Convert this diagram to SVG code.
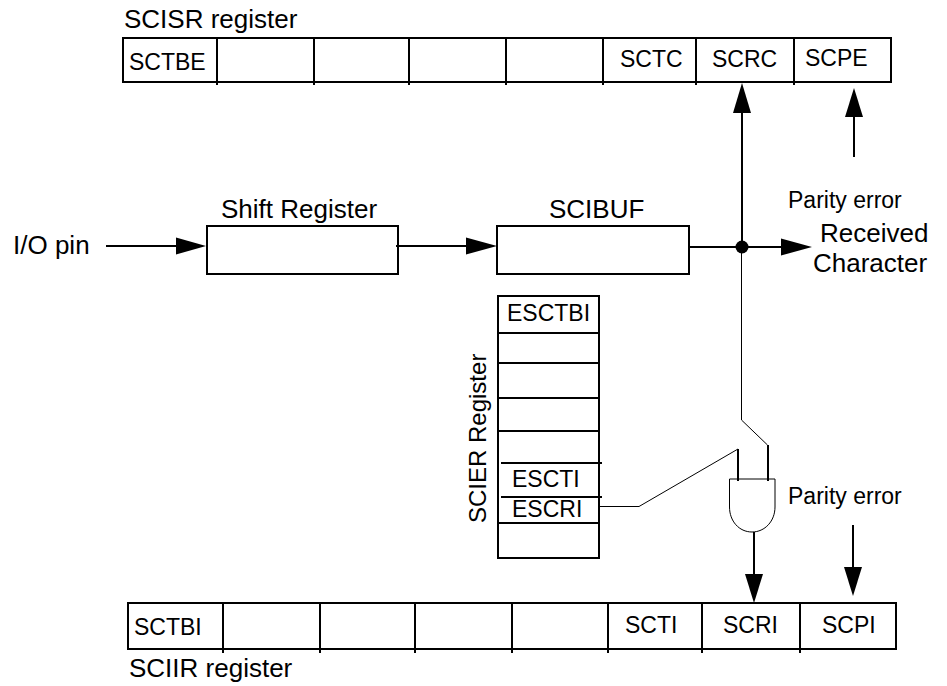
<svg xmlns="http://www.w3.org/2000/svg" width="947" height="686" viewBox="0 0 947 686">
<style>
text{font-family:"Liberation Sans",Arial,sans-serif;font-size:26px;fill:#000}
.s{font-size:23px}
.m{font-size:24px}
.box{fill:none;stroke:#000;stroke-width:2}
.div{stroke:#000;stroke-width:2;fill:none}
.c{stroke:#000;stroke-width:2;fill:none}
.t{stroke:#000;stroke-width:1;fill:none}
.h{fill:#000;stroke:none}
</style>
<rect width="947" height="686" fill="#fff"/>
<g id="scisr-register">
<rect class="box" x="123" y="38" width="768" height="44"/>
<path class="div" d="M217 38V85M314 38V85M409 38V85M506 38V85M603 38V85M696 38V85M794 38V85"/>
<text x="124" y="28">SCISR register</text>
<text class="s" x="129" y="70">SCTBE</text>
<text class="s" x="620" y="67">SCTC</text>
<text class="s" x="712" y="67">SCRC</text>
<text class="s" x="805" y="66">SCPE</text>
</g>
<g id="shift-register">
<rect class="box" x="207" y="226" width="191" height="48"/>
<text x="221" y="218">Shift Register</text>
</g>
<g id="scibuf">
<rect class="box" x="497" y="226" width="192" height="48"/>
<text x="549" y="218">SCIBUF</text>
</g>
<g id="scier-register">
<rect class="box" x="498" y="296" width="101" height="262"/>
<path class="div" d="M498 333H599M498 363H599M498 398H599M498 431H599M501 463H602M501 497H602M498 523H599"/>
<text class="s" x="507" y="321">ESCTBI</text>
<text class="s" x="512" y="487">ESCTI</text>
<text class="s" x="512" y="517">ESCRI</text>
<text class="m" transform="translate(486 523) rotate(-90)">SCIER Register</text>
</g>
<g id="and-gate">
<path class="t" d="M729.500 479H775V507C775 521 765 532 752 532C739 532 729.500 521 729.500 507Z"/>
</g>
<g id="sciir-register">
<rect class="box" x="128" y="603" width="768" height="46"/>
<path class="div" d="M223 603V653M320 603V653M415 603V653M512 603V653M608 603V653M702 603V653M800 603V653"/>
<text class="s" x="134" y="635">SCTBI</text>
<text class="s" x="625" y="633">SCTI</text>
<text class="s" x="723" y="633">SCRI</text>
<text class="s" x="822" y="633">SCPI</text>
<text x="129" y="677">SCIIR register</text>
</g>
<g id="labels">
<text x="13" y="254">I/O pin</text>
<text class="s" x="788" y="208">Parity error</text>
<text x="820" y="242">Received</text>
<text x="813" y="272">Character</text>
<text class="s" x="788" y="504">Parity error</text>
</g>
<g id="connectors">
<path class="c" d="M106 246H178"/><path class="h" d="M206 246L176 237.500V254.500Z"/>
<path class="c" d="M396 246H468"/><path class="h" d="M497 246L466 237.500V254.500Z"/>
<path class="c" d="M689 247H783"/><path class="h" d="M812 247L781 238.500V255.500Z"/>
<circle class="h" cx="742" cy="247" r="6.500"/>
<path class="c" d="M742 247V111"/><path class="h" d="M742 83L733 113H751Z"/>
<path class="c" d="M854 157V115"/><path class="h" d="M854 88L845 117H863Z"/>
<path class="t" d="M741.500 250V420L767.500 445"/>
<path class="c" d="M768 445V481"/>
<path class="t" d="M600 506.500H639L738 449"/>
<path class="c" d="M738 449V481"/>
<path class="c" d="M754 532V576"/><path class="h" d="M754 603L745 574H763Z"/>
<path class="c" d="M853 525V569"/><path class="h" d="M853 596L844 567H862Z"/>
</g>
</svg>
